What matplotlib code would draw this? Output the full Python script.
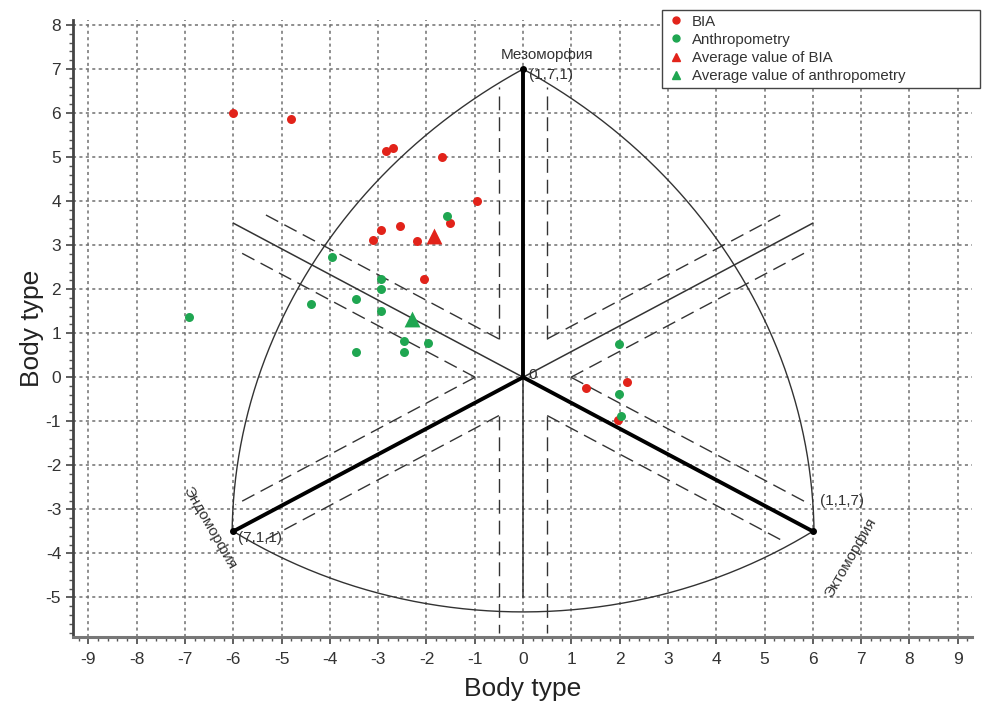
import matplotlib
matplotlib.use("Agg")
import matplotlib.pyplot as plt
import numpy as np
from matplotlib.lines import Line2D

plt.rcParams['font.family'] = ['Liberation Sans', 'DejaVu Sans']
plt.rcParams['axes.unicode_minus'] = False

# Datos: puntos de BIA y antropometria (x, y en la somatocarta)
bia_x = [-6.0, -4.8, -2.84, -2.7, -1.68, -0.95, -1.51, -2.55, -2.94, -3.1, -2.19, -2.05, 1.3, 2.15, 1.97]
bia_y = [6.0, 5.86, 5.14, 5.2, 5.0, 4.0, 3.5, 3.43, 3.34, 3.11, 3.09, 2.23, -0.25, -0.11, -0.98]
antro_x = [-1.57, -3.95, -2.94, -2.94, -3.46, -4.39, -6.92, -2.94, -2.46, -1.97, -2.46, -3.46, 1.99, 1.99, 2.03]
antro_y = [3.66, 2.73, 2.23, 2.0, 1.77, 1.66, 1.36, 1.5, 0.82, 0.77, 0.57, 0.57, 0.75, -0.39, -0.89]
media_bia = (-1.85, 3.2)
media_antro = (-2.3, 1.32)

# Vertices de la somatocarta
vertices = {'meso': (0, 7), 'endo': (-6, -3.5), 'ecto': (6, -3.5)}

fig = plt.figure(figsize=(9.89, 7.21), dpi=100)
ax = fig.add_axes([0.0738, 0.1165, 0.9092, 0.8555])
ax.set_xlim(-9.32, 9.3)
ax.set_ylim(-5.9, 8.11)

# Rejilla punteada
ax.set_xticks(np.arange(-9, 10, 1))
ax.set_yticks(np.arange(-5, 9, 1))
ax.set_xticks(np.arange(-9.2, 9.3, 0.2), minor=True)
ax.set_yticks(np.arange(-5.8, 8.1, 0.2), minor=True)
ax.grid(which='major', linestyle=(0, (2, 2.2)), color='#707070', lw=1.1)
ax.set_axisbelow(True)
for s in ['top', 'right']:
    ax.spines[s].set_visible(False)
ax.spines['left'].set_color('#444')
ax.spines['left'].set_linewidth(2)
ax.spines['bottom'].set_color('#777')
ax.spines['bottom'].set_linewidth(2.2)
ax.tick_params(which='major', direction='out', length=5, width=1.2, colors='#444', labelsize=12.5, labelcolor='#333')
ax.tick_params(axis='x', which='major', pad=6)
ax.tick_params(which='minor', direction='out', length=3, width=1, colors='#555')

linea = '#333333'

# Ejes gruesos y prolongaciones finas
for v in vertices.values():
    ax.plot([0, v[0]], [0, v[1]], color='black', lw=2.8, solid_capstyle='butt', zorder=3)
    ax.plot(v[0], v[1], 'o', color='black', ms=4, zorder=4)
ax.plot([0, 0], [0, -5.0], color=linea, lw=1.1)
ax.plot([0, -6], [0, 3.5], color=linea, lw=1.1)
ax.plot([0, 6], [0, 3.5], color=linea, lw=1.1)

# Lineas discontinuas paralelas a cada rayo (desplazamiento 0.5)
rayos = [(6, 3.5), (0, 1), (-6, 3.5), (-6, -3.5), (0, -1), (6, -3.5)]
largos = [6.6, 6.6, 6.6, 6.6, 5.8, 6.6]
u = [np.array(r, float) / np.hypot(*r) for r in rayos]
n = [np.array([-d[1], d[0]]) for d in u]
d_off = 0.5
for i in range(6):
    for s, j in [(1, (i + 1) % 6), (-1, (i - 1) % 6)]:
        a0 = s * d_off * n[i]
        b0 = -s * d_off * n[j]
        t, r = np.linalg.solve(np.column_stack([u[i], -u[j]]), b0 - a0)
        p0 = a0 + t * u[i]
        p1 = a0 + largos[i] * u[i]
        ax.plot([p0[0], p1[0]], [p0[1], p1[1]], color=linea, lw=1.0,
                linestyle=(0, (10, 5)))

# Arcos del contorno
def arco(cx, cy, p_a, p_b):
    a1 = np.arctan2(p_a[1] - cy, p_a[0] - cx)
    a2 = np.arctan2(p_b[1] - cy, p_b[0] - cx)
    R = np.hypot(p_a[0] - cx, p_a[1] - cy)
    th = np.linspace(a1, a2, 200)
    ax.plot(cx + R * np.cos(th), cy + R * np.sin(th), color=linea, lw=1.0)

arco(6.375, -3.636, vertices['meso'], vertices['endo'])
arco(-6.375, -3.636, vertices['meso'], vertices['ecto'])
arco(0, 5.42, vertices['endo'], vertices['ecto'])

# Puntos
rojo = '#e2231a'
verde = '#1fa651'
ax.scatter(bia_x, bia_y, s=42, color=rojo, zorder=5, linewidths=0)
ax.scatter(antro_x, antro_y, s=42, color=verde, zorder=5, linewidths=0)
ax.scatter(*media_bia, s=130, marker='^', color=rojo, zorder=6, linewidths=0)
ax.scatter(*media_antro, s=130, marker='^', color=verde, zorder=6, linewidths=0)

# Textos
tc = '#333333'
ax.text(0.5, 7.32, 'Мезоморфия', ha='center', va='center', fontsize=11, color=tc)
ax.text(0.12, 6.86, '(1,7,1)', ha='left', va='center', fontsize=11, color=tc)
ax.text(0.1, 0.05, '0', ha='left', va='center', fontsize=11, color=tc)
ax.text(-5.9, -3.64, '(7,1,1)', ha='left', va='center', fontsize=11, color=tc)
ax.text(6.15, -2.8, '(1,1,7)', ha='left', va='center', fontsize=11, color=tc)
ax.text(-6.5, -3.41, 'Эндоморфия', ha='center', va='center', fontsize=11, color=tc, rotation=-60)
ax.text(6.79, -4.09, 'Эктоморфия', ha='center', va='center', fontsize=11, color=tc, rotation=60)

ax.set_xlabel('Body type', fontsize=19, color='#222', labelpad=7)
ax.set_ylabel('Body type', fontsize=19, color='#222', labelpad=1)

# Leyenda
handles = [
    Line2D([], [], marker='o', ls='none', color=rojo, ms=5),
    Line2D([], [], marker='o', ls='none', color=verde, ms=5),
    Line2D([], [], marker='^', ls='none', color=rojo, ms=6),
    Line2D([], [], marker='^', ls='none', color=verde, ms=6),
]
etiquetas = ['BIA', 'Anthropometry', 'Average value of BIA', 'Average value of anthropometry']
leg = ax.legend(handles, etiquetas, loc='upper left', mode='expand',
                bbox_to_anchor=(662 / 989, 1 - 88 / 721, 318 / 989, 78 / 721),
                bbox_transform=fig.transFigure, fontsize=10.8, frameon=True, fancybox=False,
                edgecolor='#444', framealpha=1, borderpad=0.3, labelspacing=0.28,
                handletextpad=0.5, handlelength=1.2, borderaxespad=0)
leg.get_frame().set_linewidth(1.0)
for t in leg.get_texts():
    t.set_color('#333')

fig.savefig('out.png', dpi=100)
